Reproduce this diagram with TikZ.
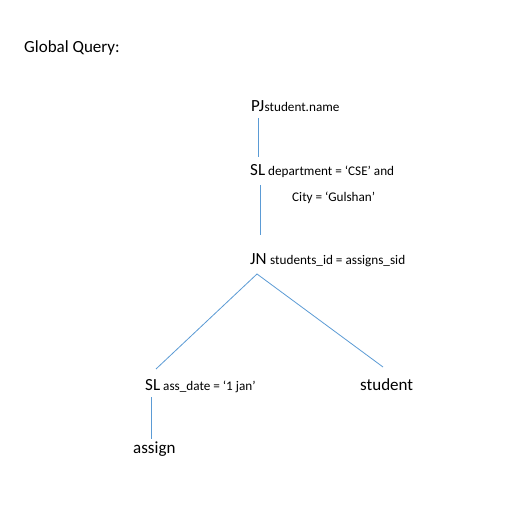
\documentclass[tikz,border=0pt]{standalone}
\usepackage{fontspec}
\setmainfont{Carlito}
\definecolor{lineblue}{RGB}{91,155,213}
\begin{document}
\begin{tikzpicture}[x=1pt,y=-1pt,
  big/.style={inner sep=0pt,anchor=base west,font=\fontsize{17}{20}\selectfont},
  small/.style={inner sep=0pt,anchor=base west,font=\fontsize{13.2}{16}\selectfont},
  conn/.style={draw=lineblue,line width=0.8pt}]
\useasboundingbox (0,0) rectangle (530,526);
\fill[white] (0,0) rectangle (530,526);
\node[big] (title) at (24,53) {Global Query:};
\node[big] (pj) at (251,112) {PJ};
\node[small] (pjc) at (pj.base east) {student.name};
\node[big] (sl1) at (250,176) {SL};
\node[small] (sl1c) at (268,176) {department = ‘CSE’ and};
\node[small] (sl1d) at (292,202) {City = ‘Gulshan’};
\node[big] (jn) at (250,265) {JN};
\node[small] (jnc) at (270,265) {students\_id = assigns\_sid};
\node[big] (sl2) at (145,391) {SL};
\node[small] (sl2c) at (163,391) {ass\_date = ‘1 jan’};
\node[big] (student) at (360,391) {student};
\node[big] (assign) at (133,453) {assign};
\coordinate (a1) at (258,118);
\coordinate (a2) at (258,157);
\coordinate (b1) at (260,185);
\coordinate (b2) at (260,235);
\coordinate (apex) at (257,274);
\coordinate (lft) at (156,369);
\coordinate (rgt) at (383,367);
\coordinate (c1) at (151,397);
\coordinate (c2) at (151,439);
\draw[conn] (a1) -- (a2);
\draw[conn] (b1) -- (b2);
\draw[conn] (lft) -- (apex) -- (rgt);
\draw[conn] (c1) -- (c2);
\end{tikzpicture}
\end{document}
